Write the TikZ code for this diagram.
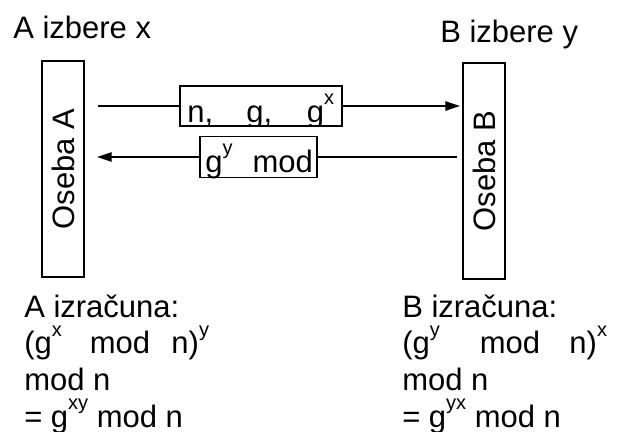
\documentclass[tikz,border=0pt]{standalone}
\usepackage{fontspec}
\setmainfont{Liberation Sans}
\usetikzlibrary{arrows.meta}
\newcommand{\hoch}[1]{\raisebox{13pt}{\fontsize{15}{15}\selectfont #1}}

\begin{document}
\begin{tikzpicture}[x=0.75pt,y=-0.75pt,
  txt/.style={inner sep=0pt, font=\fontsize{23.25}{27.5}\selectfont},
  oseba/.style={draw, line width=1.3pt, rotate=90, minimum width=162pt, minimum height=31.5pt, inner sep=0pt, font=\fontsize{23.25}{27.5}\selectfont},
  msg/.style={draw, line width=1.2pt, inner sep=0pt},
  line/.style={line width=1.2pt},
  tip/.style={line width=1.2pt, -{Triangle[length=11pt,width=7pt]}}]
\useasboundingbox (0,0) rectangle (625,432);

\node[txt, anchor=base west] (selA) at (13,38) {A izbere x};
\node[txt, anchor=base west] (selB) at (440,42) {B izbere y};

\node[oseba] (osA) at (63,169) {Oseba A};
\node[oseba] (osB) at (484,171) {Oseba B};

% sporocili
\node[msg, minimum width=121.5pt, minimum height=30pt] (m1) at (261,106) {};
\node[msg, minimum width=87.75pt, minimum height=30.75pt] (m2) at (258.5,157) {};
\begin{scope}
\clip (m1.south west) rectangle (m1.north east);
\node[txt, anchor=base west] (t1) at (187,122) {n,\hspace{25pt}g,\hspace{26pt}g\hoch{x}};
\end{scope}
\begin{scope}
\clip (m2.south west) rectangle (m2.north east);
\node[txt, anchor=base west] (t2) at (205,172) {g\hoch{y}\hspace{15pt}mod};
\end{scope}

\coordinate (a1s) at (98,106);
\coordinate (a1e) at (460,106);
\draw[line] (a1s) -- (m1);
\draw[tip] (m1) -- (a1e);
\coordinate (a2s) at (457,157);
\coordinate (a2e) at (97,157);
\draw[line] (a2s) -- (m2);
\draw[tip] (m2) -- (a2e);

% izracun (base = zadnja vrstica)
\node[txt, anchor=base west, align=left] (izA) at (24,427)
  {A izračuna:\\(g\hoch{x}\hspace{21pt}mod\hspace{16pt}n)\hoch{y}\\mod n\\= g\hoch{xy} mod n};
\node[txt, anchor=base west, align=left] (izB) at (402,427)
  {B izračuna:\\(g\hoch{y}\hspace{30pt}mod\hspace{22pt}n)\hoch{x}\\mod n\\= g\hoch{yx} mod n};
\end{tikzpicture}
\end{document}
